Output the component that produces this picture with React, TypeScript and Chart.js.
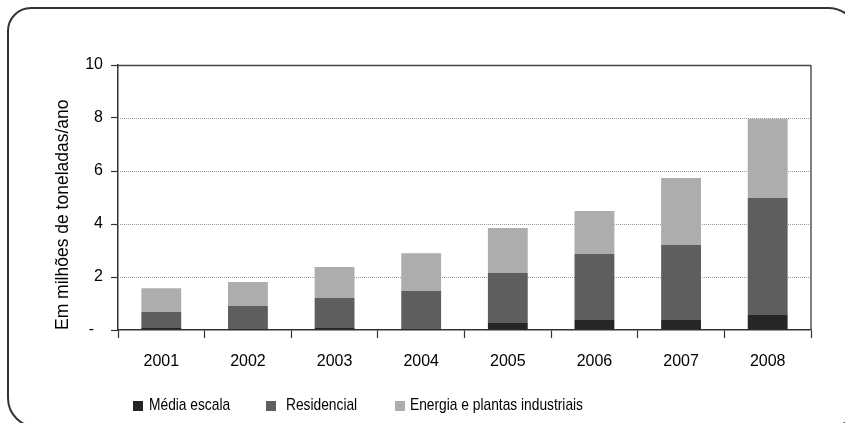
import React, { useEffect, useRef } from 'react';
import { Chart, registerables } from 'chart.js';

Chart.register(...registerables);

const categories = ['2001', '2002', '2003', '2004', '2005', '2006', '2007', '2008'];
const mediaEscala = [0.08, 0.04, 0.08, 0.04, 0.26, 0.38, 0.38, 0.57];
const residencial = [0.6, 0.87, 1.13, 1.43, 1.89, 2.49, 2.83, 4.41];
const energia = [0.9, 0.9, 1.17, 1.43, 1.7, 1.62, 2.53, 2.99];
const yTicks = [0, 2, 4, 6, 8, 10];
const seriesNames = ['Média escala', 'Residencial', 'Energia e plantas industriais'];
const seriesColors = ['#262626', '#5e5e5e', '#adadad'];
const yTitle = 'Em milhões de toneladas/ano';

const FONT = "'Liberation Sans', Arial, Helvetica, sans-serif";

const gridPlugin = {
  id: 'refGrid',
  beforeDatasetsDraw(chart: any) {
    const { ctx, chartArea, scales } = chart;
    const y = scales.y;
    ctx.save();
    yTicks.forEach((v) => {
      if (v === 0) return;
      const py = Math.round(y.getPixelForValue(v)) + 0.5;
      ctx.beginPath();
      if (v === yTicks[yTicks.length - 1]) {
        ctx.setLineDash([]);
        ctx.strokeStyle = '#444';
        ctx.lineWidth = 1.5;
      } else {
        ctx.setLineDash([1, 1]);
        ctx.strokeStyle = '#999';
        ctx.lineWidth = 1;
      }
      ctx.moveTo(chartArea.left, py);
      ctx.lineTo(chartArea.right, py);
      ctx.stroke();
    });
    ctx.setLineDash([]);
    ctx.strokeStyle = '#555';
    ctx.lineWidth = 1.5;
    ctx.beginPath();
    ctx.moveTo(chartArea.right, chartArea.top);
    ctx.lineTo(chartArea.right, chartArea.bottom);
    ctx.stroke();
    ctx.restore();
  },
};

function ChartView() {
  const ref = useRef<HTMLCanvasElement>(null);
  useEffect(() => {
    if (!ref.current) return;
    const values = [mediaEscala, residencial, energia];
    const chart = new Chart(ref.current, {
      type: 'bar',
      data: {
        labels: categories,
        datasets: seriesNames.map((name, i) => ({
          label: name,
          data: values[i],
          backgroundColor: seriesColors[i],
          borderWidth: 0,
          categoryPercentage: 1,
          barPercentage: 0.46,
        })),
      },
      options: {
        responsive: false,
        animation: false,
        layout: { padding: { top: 65, right: 34, bottom: 0, left: 49 } },
        plugins: {
          legend: { display: false },
          tooltip: { enabled: false },
          title: { display: false },
        },
        scales: {
          x: {
            stacked: true,
            afterFit: (s: any) => {
              s.height = 93;
            },
            grid: {
              drawOnChartArea: false,
              offset: true,
              tickLength: 8,
              tickColor: '#333',
              tickWidth: 1.2,
            },
            border: { color: '#333', width: 1.5 },
            ticks: {
              color: '#000',
              font: { family: FONT, size: 16 },
              padding: 14,
              maxRotation: 0,
            },
          },
          y: {
            stacked: true,
            min: 0,
            max: 10,
            afterFit: (s: any) => {
              s.width = 69;
            },
            afterBuildTicks: (s: any) => {
              s.ticks = yTicks.map((v) => ({ value: v }));
            },
            grid: {
              drawOnChartArea: false,
              tickLength: 7,
              tickColor: '#333',
              tickWidth: 1.2,
            },
            border: { color: '#333', width: 1.5 },
            ticks: {
              color: '#000',
              font: { family: FONT, size: 16 },
              padding: 8,
              callback: (v: any) => (Number(v) === 0 ? '-  ' : String(v)),
            },
            title: {
              display: true,
              text: yTitle,
              align: 'start',
              color: '#000',
              font: { family: FONT, size: 17.5 },
              padding: { top: 4, bottom: 4 },
            },
          },
        },
      },
      plugins: [gridPlugin],
    } as any);
    return () => chart.destroy();
  }, []);
  return <canvas ref={ref} width={845} height={423} style={{ position: 'absolute', left: 0, top: 0 }} />;
}

const legendBoxX = [133, 266, 395];
const legendTextX = [149, 286, 410];

export default function App() {
  return (
    <div
      style={{
        position: 'fixed',
        left: 0,
        top: 0,
        width: 845,
        height: 423,
        overflow: 'hidden',
        background: '#fff',
        fontFamily: FONT,
      }}
    >
      <div
        style={{
          position: 'absolute',
          left: 7,
          top: 7,
          width: 853,
          height: 421,
          border: '2px solid #333',
          borderTopLeftRadius: 24,
          borderTopRightRadius: 32,
          borderBottomLeftRadius: 30,
          borderBottomRightRadius: 30,
          boxSizing: 'border-box',
        }}
      />
      <ChartView />
      {seriesNames.map((name, i) => (
        <React.Fragment key={name}>
          <div
            style={{
              position: 'absolute',
              left: legendBoxX[i],
              top: 401,
              width: 10,
              height: 10,
              background: seriesColors[i],
            }}
          />
          <div
            style={{
              position: 'absolute',
              left: legendTextX[i],
              top: 395,
              fontSize: 17,
              lineHeight: '20px',
              color: '#000',
              whiteSpace: 'nowrap',
              transform: 'scaleX(0.81)',
              transformOrigin: 'left center',
            }}
          >
            {name}
          </div>
        </React.Fragment>
      ))}
    </div>
  );
}
